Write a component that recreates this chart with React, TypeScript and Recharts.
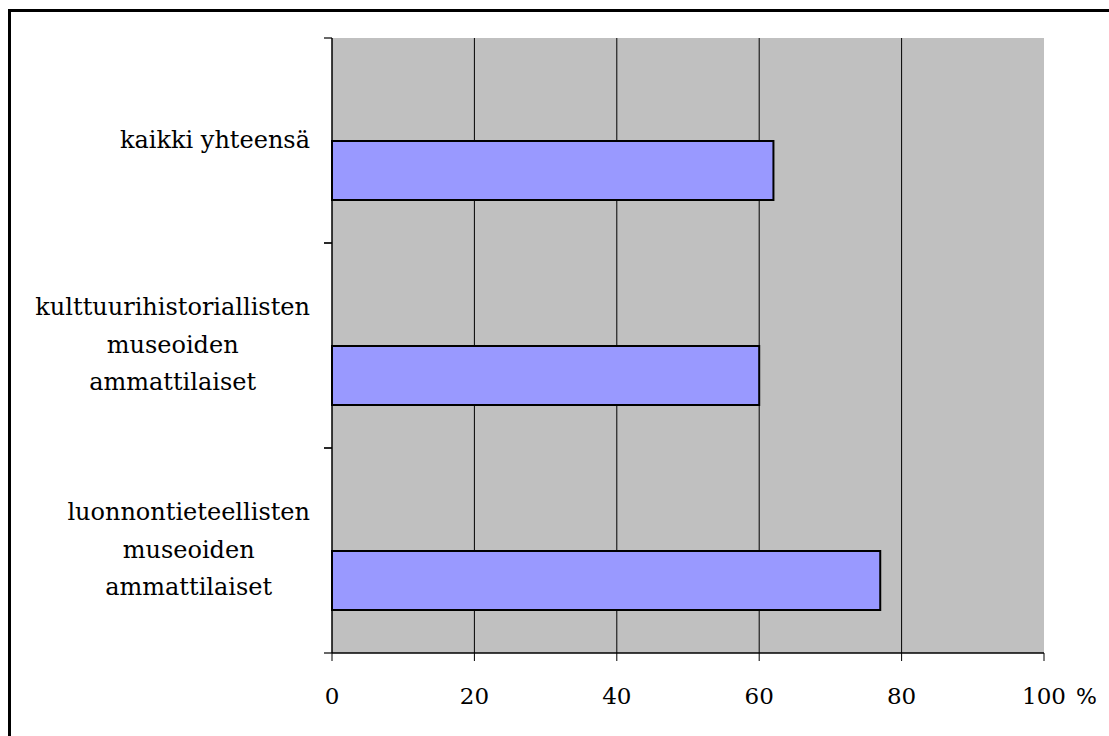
import React from 'react';
import { BarChart, Bar, XAxis, YAxis, CartesianGrid } from 'recharts';

const categories = [
  'kaikki yhteensä',
  'kulttuurihistoriallisten museoiden ammattilaiset',
  'luonnontieteellisten museoiden ammattilaiset',
];
const shares = [62, 60, 77];
const xTicks = [0, 20, 40, 60, 80, 100];

// category names are broken into lines the way the original shows them
const labelLines: Record<string, string[]> = {
  'kaikki yhteensä': ['kaikki yhteensä'],
  'kulttuurihistoriallisten museoiden ammattilaiset': ['kulttuurihistoriallisten', 'museoiden', 'ammattilaiset'],
  'luonnontieteellisten museoiden ammattilaiset': ['luonnontieteellisten', 'museoiden', 'ammattilaiset'],
};

const data = categories.map((name, i) => ({ name, blank: null, value: shares[i] }));

const SERIF = '"DejaVu Serif", "Liberation Serif", serif';
const LABEL_SIZE = 24;
const LABEL_FONT = `${LABEL_SIZE}px ${SERIF}`;

let ctx: CanvasRenderingContext2D | null = null;
function textWidth(s: string) {
  if (!ctx) ctx = document.createElement('canvas').getContext('2d');
  if (!ctx) return s.length * 12;
  ctx.font = LABEL_FONT;
  return ctx.measureText(s).width;
}

function CategoryTick(props: any) {
  const { x, y, payload } = props;
  const lines = labelLines[payload.value] || [payload.value];
  const maxW = Math.max(...lines.map(textWidth));
  const right = x - 22;
  const cx = right - maxW / 2;
  const half = payload.offset || 0;
  return (
    <g>
      {lines.map((l, i) => (
        <text
          key={i}
          x={cx}
          y={y + (i - (lines.length - 1) / 2) * 37.5 + 7}
          textAnchor="middle"
          style={{ fontFamily: SERIF, fontSize: LABEL_SIZE }}
          fill="#000"
        >
          {l}
        </text>
      ))}
      {half > 0 && (
        <>
          <line x1={x - 8} x2={x} y1={y - half} y2={y - half} stroke="#000" strokeWidth={1.2} />
          <line x1={x - 8} x2={x} y1={y + half} y2={y + half} stroke="#000" strokeWidth={1.2} />
        </>
      )}
    </g>
  );
}

function ValueTick(props: any) {
  const { x, y, payload } = props;
  return (
    <g>
      <text x={x} y={y + 41} textAnchor="middle" style={{ fontFamily: SERIF, fontSize: 23 }} fill="#000">
        {payload.value}
      </text>
      {payload.value === 100 && (
        <text x={x + 32} y={y + 41} style={{ fontFamily: '"DejaVu Sans", "Liberation Sans", sans-serif', fontSize: 22 }} fill="#000">
          %
        </text>
      )}
    </g>
  );
}

export default function App() {
  return (
    <div style={{ position: 'absolute', left: 0, top: 0, width: 1109, height: 736, background: '#fff', overflow: 'hidden' }}>
      <div
        style={{
          position: 'absolute',
          left: 8,
          top: 9,
          width: 1120,
          height: 740,
          borderLeft: '3px solid #000',
          borderTop: '3px solid #000',
        }}
      />
      <div style={{ position: 'absolute', left: 0, top: 0 }}>
        <BarChart
          width={1109}
          height={736}
          data={data}
          layout="vertical"
          margin={{ top: 38, right: 65, bottom: 33, left: 0 }}
          barGap={0}
        >
          <CartesianGrid horizontal={false} stroke="#000" fill="#c0c0c0" verticalValues={[20, 40, 60, 80]} />
          <XAxis
            type="number"
            domain={[0, 100]}
            ticks={xTicks}
            interval={0}
            tickSize={8}
            height={50}
            stroke="#000"
            axisLine={{ stroke: '#000', strokeWidth: 1.5 }}
            tick={<ValueTick />}
          />
          <XAxis xAxisId="top" orientation="top" type="number" domain={[0, 100]} tick={false} tickLine={false} height={0} axisLine={{ stroke: '#808080', strokeWidth: 1.5 }} />
          <YAxis
            type="category"
            dataKey="name"
            width={332}
            tickLine={false}
            tickSize={0}
            tickMargin={0}
            axisLine={{ stroke: '#000', strokeWidth: 1.5 }}
            tick={<CategoryTick />}
            interval={0}
          />
          <YAxis yAxisId="right" orientation="right" type="category" dataKey="name" width={0} tick={false} tickLine={false} axisLine={{ stroke: '#808080', strokeWidth: 1.5 }} />
          <Bar dataKey="blank" barSize={59} fill="#9999ff" isAnimationActive={false} />
          <Bar dataKey="value" barSize={59} fill="#9999ff" stroke="#000" strokeWidth={2} isAnimationActive={false} />
        </BarChart>
      </div>
    </div>
  );
}
